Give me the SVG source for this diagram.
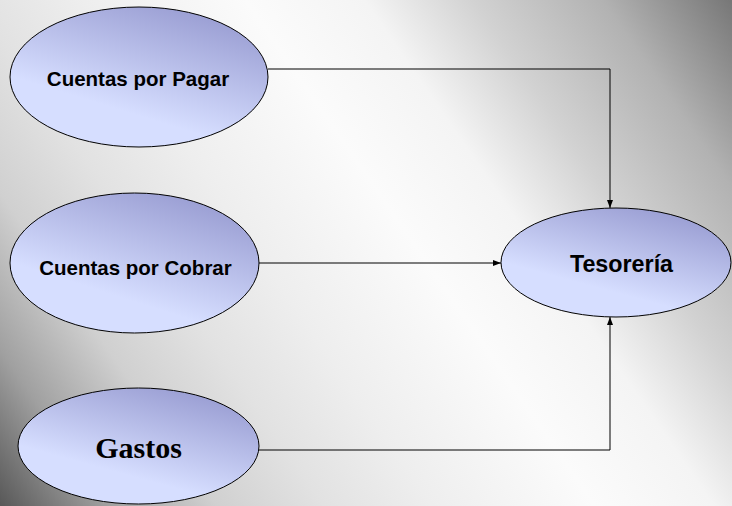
<svg xmlns="http://www.w3.org/2000/svg" width="732" height="506" viewBox="0 0 732 506">
  <defs>
    <linearGradient id="bg" gradientUnits="userSpaceOnUse" x1="732" y1="0" x2="0" y2="506">
      <stop offset="0" stop-color="#777777"/>
      <stop offset="0.12" stop-color="#b2b2b2"/>
      <stop offset="0.24" stop-color="#d2d2d2"/>
      <stop offset="0.34" stop-color="#f4f4f4"/>
      <stop offset="0.45" stop-color="#fbfbfb"/>
      <stop offset="0.6" stop-color="#eeeeee"/>
      <stop offset="0.7" stop-color="#e2e2e2"/>
      <stop offset="0.8" stop-color="#d0d0d0"/>
      <stop offset="0.9" stop-color="#a0a0a0"/>
      <stop offset="1" stop-color="#585858"/>
    </linearGradient>
    <linearGradient id="nodefill" x1="0.78" y1="0.05" x2="0.4" y2="0.72">
      <stop offset="0" stop-color="#9a9ed3"/>
      <stop offset="1" stop-color="#d6deff"/>
    </linearGradient>
    <marker id="arrow" markerUnits="userSpaceOnUse" markerWidth="8" markerHeight="6" viewBox="0 0 8 6" refX="8" refY="3" orient="auto">
      <path d="M0,0 L8,3 L0,6 z" fill="#000"/>
    </marker>
    <style>
      .node { fill: url(#nodefill); stroke: #000; stroke-width: 1; }
      .sans { font-family: "Liberation Sans", Arial, sans-serif; font-weight: bold; fill: #000; text-anchor: middle; }
      .serif { font-family: "Liberation Serif", "Times New Roman", serif; font-weight: bold; fill: #000; text-anchor: middle; }
      .conn { fill: none; stroke: #000; stroke-width: 1; marker-end: url(#arrow); }
    </style>
  </defs>
  <rect x="0" y="0" width="732" height="506" fill="url(#bg)"/>

  <g id="connectors">
    <path class="conn" d="M268,69 H610 V208"/>
    <path class="conn" d="M259,263 H501"/>
    <path class="conn" d="M259,450 H610 V317"/>
  </g>

  <g id="cuentas-pagar">
    <ellipse class="node" cx="139" cy="77" rx="129" ry="70"/>
    <text class="sans" x="138" y="86" font-size="20.5">Cuentas por Pagar</text>
  </g>
  <g id="cuentas-cobrar">
    <ellipse class="node" cx="134.5" cy="263" rx="124.5" ry="70"/>
    <text class="sans" x="135.5" y="275" font-size="20.5">Cuentas por Cobrar</text>
  </g>
  <g id="gastos">
    <ellipse class="node" cx="138.5" cy="446" rx="120.5" ry="58"/>
    <text class="serif" x="138.5" y="458" font-size="30">Gastos</text>
  </g>
  <g id="tesoreria">
    <ellipse class="node" cx="616" cy="262.5" rx="115" ry="54.5"/>
    <text class="sans" x="621.5" y="272" font-size="23.3">Tesorería</text>
  </g>
</svg>
